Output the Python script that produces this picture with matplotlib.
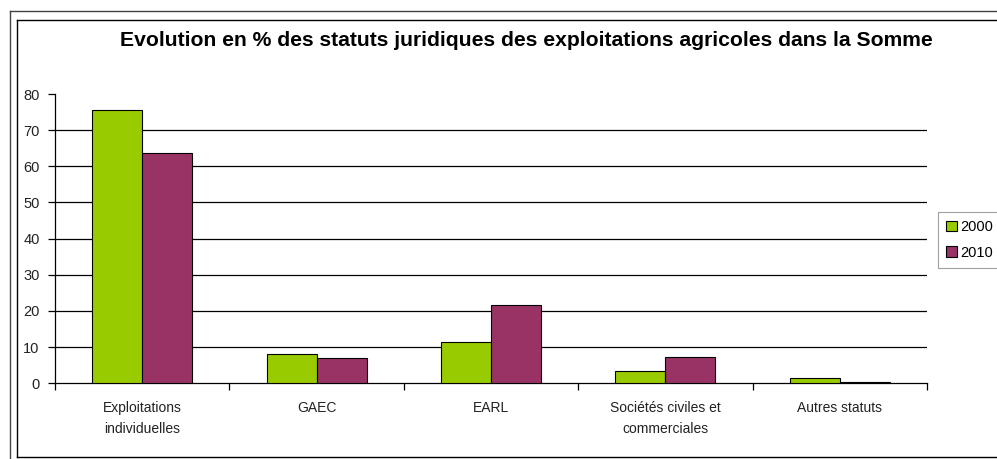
import numpy as np
import matplotlib.pyplot as plt
from matplotlib.lines import Line2D

plt.rcParams['font.family'] = ['Liberation Sans', 'DejaVu Sans']

# Data
categories = ['Exploitations\nindividuelles', 'GAEC', 'EARL',
              'Sociétés civiles et\ncommerciales', 'Autres statuts']
values_2000 = [75.5, 8.2, 11.3, 3.4, 1.4]
values_2010 = [63.7, 7.1, 21.6, 7.4, 0.3]
series_labels = ['2000', '2010']
y_ticks = [0, 10, 20, 30, 40, 50, 60, 70, 80]

W, H = 997, 459
fig = plt.figure(figsize=(W / 100, H / 100), dpi=100)

# frame lines around the chart (pixel coords -> figure fraction)
def fline(x0, y0, x1, y1, color='black', lw=1.0):
    fig.add_artist(Line2D([x0 / W, x1 / W], [1 - y0 / H, 1 - y1 / H],
                          color=color, lw=lw, transform=fig.transFigure))

fline(10, 11, 997, 11, color='#444444')
fline(10, 11, 10, 459, color='#444444')
fline(17, 20, 997, 20)
fline(17, 20, 17, 457)
fline(17, 457, 997, 457)

ax_left, ax_right = 55, 927
ax_top, ax_bottom = 94, 383.3
ax = fig.add_axes([ax_left / W, 1 - ax_bottom / H,
                   (ax_right - ax_left) / W, (ax_bottom - ax_top) / H])

x = np.arange(len(categories))
bw = 0.287
ax.bar(x - bw / 2, values_2000, bw, color='#99CC00', edgecolor='black',
       linewidth=0.8, label=series_labels[0], zorder=3)
ax.bar(x + bw / 2, values_2010, bw, color='#993366', edgecolor='black',
       linewidth=0.8, label=series_labels[1], zorder=3)

ax.set_xlim(-0.5, len(categories) - 0.5)
ax.set_ylim(0, 80)
ax.set_yticks(y_ticks)
ax.set_yticklabels([str(t) for t in y_ticks], fontsize=10.5, color='#222222')

for t in y_ticks[1:-1]:
    ax.axhline(t, color='black', lw=0.9, zorder=1)

# category ticks at boundaries, labels centred
ax.set_xticks(np.arange(-0.5, len(categories), 1.0))
ax.set_xticklabels([])
ax.set_xticks(x, minor=True)
ax.set_xticklabels(categories, minor=True, fontsize=10, color='#222222',
                   linespacing=1.6)
ax.tick_params(axis='x', which='minor', length=0, pad=13)
ax.tick_params(axis='x', which='major', length=5, direction='out', width=0.9)
ax.tick_params(axis='y', length=5, direction='out', width=0.9, pad=6)

for s in ['top', 'right']:
    ax.spines[s].set_visible(False)
ax.spines['left'].set_linewidth(0.9)
ax.spines['bottom'].set_linewidth(0.9)

fig.text(526 / W, 1 - 41 / H,
         'Evolution en % des statuts juridiques des exploitations agricoles dans la Somme',
         ha='center', va='center', fontsize=15.2, fontweight='bold')

leg = fig.legend(loc='upper left', bbox_to_anchor=(938 / W, 1 - 212 / H),
                 fontsize=10.5, frameon=True, fancybox=False,
                 handlelength=0.75, handleheight=0.75, handletextpad=0.2,
                 borderpad=0.55, borderaxespad=0, labelspacing=0.8)
leg.get_frame().set_edgecolor('#888888')
leg.get_frame().set_linewidth(0.8)

fig.savefig('out.png', dpi=100)
